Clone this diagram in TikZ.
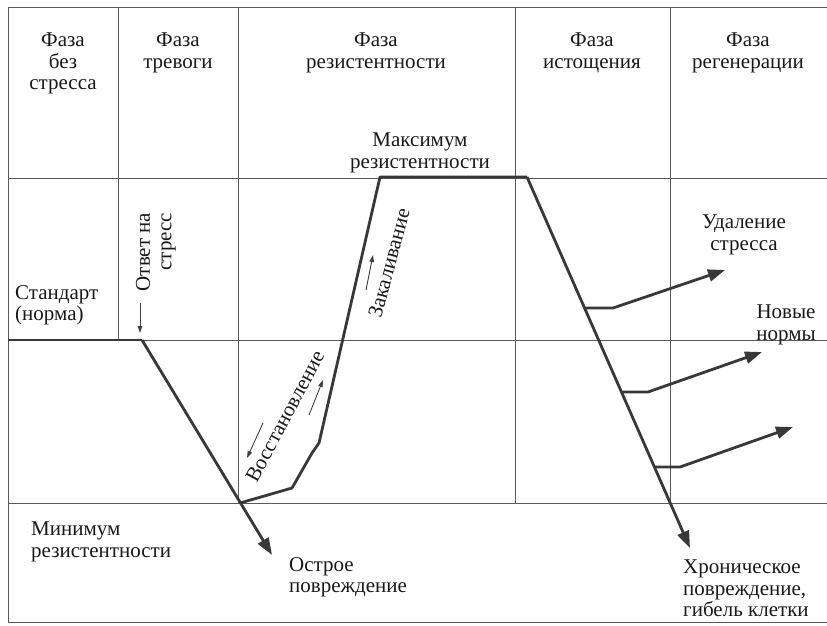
\documentclass[tikz,border=0pt]{standalone}
\usepackage{fontspec}
\setmainfont{Liberation Serif}
\usetikzlibrary{arrows.meta, positioning}

\begin{document}
\begin{tikzpicture}[x=1pt, y=-1pt,
  gridline/.style={draw=black!65, line width=0.9pt},
  trace/.style={draw=black!78, line width=2.8pt, line join=round},
  outcome/.style={trace, -{Triangle[length=17pt, width=12pt]}},
  hint/.style={draw=black!75, line width=0.9pt, -{Triangle[length=7pt, width=4.5pt]}},
  txt/.style={font=\fontsize{21}{21.5}\selectfont, text=black!90, inner sep=0pt}
]
  \useasboundingbox (0,0) rectangle (827,625);

  % frame and grid
  \draw[gridline] (827,7) -- (8,7) -- (8,622) -- (827,622);
  \draw[gridline] (8,178) -- (827,178);
  \draw[gridline] (8,340) -- (827,340);
  \draw[gridline] (8,503) -- (827,503);
  \draw[gridline] (118,7) -- (118,340);
  \foreach \x in {238,515,670} \draw[gridline] (\x,7) -- (\x,503);

  % phase headers
  \node[txt, align=center, anchor=north] (calm) at (63,33) {Фаза\\без\\стресса};
  \node[txt, align=center, anchor=north] (alarm) at (178,33) {Фаза\\тревоги};
  \node[txt, align=center, anchor=north] (resist) at (376,33) {Фаза\\резистентности};
  \node[txt, align=center, anchor=north] (exhaust) at (592,33) {Фаза\\истощения};
  \node[txt, align=center, anchor=north] (regen) at (748,33) {Фаза\\регенерации};

  % resistance curve
  \coordinate (norm) at (8,340);
  \coordinate (onset) at (142,340);
  \coordinate (minres) at (240,503);
  \coordinate (acute) at (272,555);
  \coordinate (rec1) at (292,488);
  \coordinate (rec2) at (312,453);
  \coordinate (rec3) at (319,443);
  \coordinate (maxL) at (380,177);
  \coordinate (maxR) at (527,177);
  \coordinate (chronic) at (690,548);
  \draw[trace] (norm) -- (onset);
  \draw[outcome] (onset) -- (acute);
  \draw[trace] (minres) -- (rec1) -- (rec2) -- (rec3) -- (maxL) -- (maxR);
  \draw[outcome] (maxR) -- (chronic);

  % regeneration branches
  \coordinate (br1) at (585,308);
  \coordinate (br1k) at (613,308);
  \coordinate (br1e) at (725,270);
  \coordinate (br2) at (622,392);
  \coordinate (br2k) at (648,392);
  \coordinate (br2e) at (762,352);
  \coordinate (br3) at (655,467);
  \coordinate (br3k) at (680,467);
  \coordinate (br3e) at (793,427);
  \draw[outcome] (br1) -- (br1k) -- (br1e);
  \draw[outcome] (br2) -- (br2k) -- (br2e);
  \draw[outcome] (br3) -- (br3k) -- (br3e);

  % labels
  \node[txt, align=center, anchor=north] (maxlab) at (420,133) {Максимум\\резистентности};
  \node[txt, align=left, anchor=north west] (normlab) at (15,285) {Стандарт\\(норма)};
  \node[txt, align=right, rotate=90] (resp) at (156,252) {Ответ на\\стресс};
  \node[txt, rotate=75] (harden) at (389,263) {Закаливание};
  \node[txt, rotate=62] (recov) at (285,416) {Восстановление};
  \node[txt, align=center, anchor=north] (relief) at (744,215) {Удаление\\стресса};
  \node[txt, align=center, anchor=north] (newnorm) at (786,305) {Новые\\нормы};
  \node[txt, align=left, anchor=north west] (minlab) at (31,522) {Минимум\\резистентности};
  \node[txt, align=left, anchor=north west] (acutelab) at (289,557) {Острое\\повреждение};
  \node[txt, align=left, anchor=north west] (chronlab) at (683,560) {Хроническое\\повреждение,\\гибель клетки};

  % direction hints
  \coordinate (respA) at (140,303);
  \coordinate (respB) at (140,333);
  \coordinate (hardA) at (366,290);
  \coordinate (hardB) at (373,255);
  \coordinate (downA) at (263,423);
  \coordinate (downB) at (247,458);
  \coordinate (upA) at (309,415);
  \coordinate (upB) at (323,380);
  \draw[hint] (respA) -- (respB);
  \draw[hint] (hardA) -- (hardB);
  \draw[hint] (downA) -- (downB);
  \draw[hint] (upA) -- (upB);
\end{tikzpicture}
\end{document}
